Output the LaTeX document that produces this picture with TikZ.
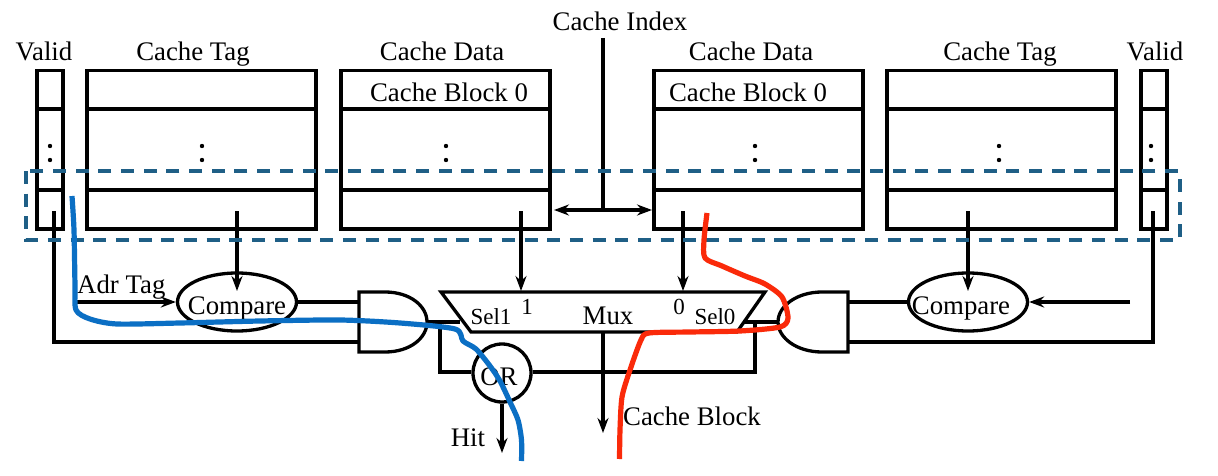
\documentclass[tikz,border=0pt]{standalone}
\usepackage{fontspec}
\setmainfont{Liberation Serif}
\usetikzlibrary{arrows.meta,calc,shapes.geometric}
\definecolor{dashblue}{HTML}{1F5F86}
\definecolor{blueink}{HTML}{0B6FC4}
\definecolor{redink}{HTML}{FA2A0A}
\tikzset{
 x=1pt,y=-1pt,
 wire/.style={line width=3.3pt,black,line cap=butt,line join=miter},
 arrowwire/.style={wire,-{Stealth[length=15pt,width=11pt,inset=5pt]}},
 lab/.style={inner sep=0pt,font=\fontsize{26.8}{28}\selectfont,anchor=base},
 small/.style={inner sep=0pt,font=\fontsize{23}{24}\selectfont,anchor=base},
 dotn/.style={circle,fill=black,inner sep=0pt,minimum size=4.4pt},
 ink/.style={line width=5.2pt,line join=round,line cap=butt},
}
\begin{document}
\begin{tikzpicture}
\useasboundingbox (0,0) rectangle (1218,476);
\fill[white] (0,0) rectangle (1218,476);
% columns
\foreach \n/\a/\b in {vl/37/63,tl/87/316,dl/341/550,dr/654/863,tr/887/1116,vr/1141/1167}{
 \draw[wire] (\a,70.5) rectangle (\b,229);
 \draw[wire] (\a,109) -- (\b,109);
 \draw[wire] (\a,190) -- (\b,190);
}
% dots
\foreach \x/\k in {50/a,202/b,446/c,755/d,999/e,1151/f}{
 \node[dotn] (dot\k1) at (\x,146) {};
 \node[dotn] (dot\k2) at (\x,160) {};
}
% headers
\node[lab] (hv1) at (44,61) {Valid};
\node[lab] (ht1) at (193,61) {Cache Tag};
\node[lab] (hd1) at (442,61) {Cache Data};
\node[lab] (hidx) at (620,31) {Cache Index};
\node[lab] (hd2) at (751,61) {Cache Data};
\node[lab] (ht2) at (1000,61) {Cache Tag};
\node[lab] (hv2) at (1155,61) {Valid};
\node[lab] (cb1) at (449,102) {Cache Block 0};
\node[lab] (cb2) at (748,102) {Cache Block 0};
% index
\coordinate (idxtop) at (603,38);
\coordinate (idxjoin) at (603,210);
\coordinate (idxl) at (554,210);
\coordinate (idxr) at (652,210);
\draw[wire] (idxtop) -- (idxjoin);
\draw[wire,{Stealth[length=15pt,width=11pt,inset=5pt]}-{Stealth[length=15pt,width=11pt,inset=5pt]}] (idxl) -- (idxr);
% compare
\node[wire,draw,ellipse,minimum width=119pt,minimum height=58pt,inner sep=0pt] (cmpl) at (237,302) {};
\node[wire,draw,ellipse,minimum width=119pt,minimum height=58pt,inner sep=0pt] (cmpr) at (968,302) {};
\node[lab] (cmpltxt) at (237,314) {Compare};
\node[lab] (cmprtxt) at (961,314) {Compare};
\coordinate (tagl) at (237,211);
\coordinate (tagr) at (968,211);
\draw[arrowwire] (tagl) -- (237,291);
\draw[arrowwire] (tagr) -- (968,291);
% Adr tag
\node[lab,anchor=base west] (adr) at (77,293) {Adr Tag};
\coordinate (adrl) at (77,302);
\coordinate (adrr) at (1130,302);
\draw[arrowwire] (adrl) -- (cmpl.west);
\draw[arrowwire] (adrr) -- (cmpr.east);
% AND gates
\draw[wire] (359,292) -- (385,292) .. controls (410,292) and (427,306) .. (427,322) .. controls (427,338) and (410,352) .. (385,352) -- (359,352) -- cycle;
\draw[wire] (848,292) -- (822,292) .. controls (797,292) and (778,306) .. (778,322) .. controls (778,338) and (797,352) .. (822,352) -- (848,352) -- cycle;
% wires to gates
\draw[wire] (cmpl.east) -- (359,302);
\draw[wire] (cmpr.west) -- (848,302);
\coordinate (vl1) at (54,211);
\draw[wire] (vl1) -- (54,342) -- (359,342);
\coordinate (vr1) at (1153,211);
\draw[wire] (vr1) -- (1153,342) -- (848,342);
% and output to or
\node[wire,draw,circle,minimum size=58pt,inner sep=0pt] (orn) at (502,373) {};
\draw[wire] (427,322) -- (460,322);
\draw[wire] (440,322) -- (440,372) -- (orn.west |- 0,372);
\draw[wire] (778,322) -- (745,322);
\draw[wire] (755,322) -- (755,372) -- (orn.east |- 0,372);
% mux
\draw[wire,fill=white] (441,292) -- (765,292) -- (737,332) -- (471,332) -- cycle;
\node[small] (sel1) at (491,324) {Sel1};
\node[small] (one) at (527,314) {1};
\node[lab] (mux) at (608,324) {Mux};
\node[small] (zero) at (679,314) {0};
\node[small] (sel0) at (715,324) {Sel0};
\coordinate (dl1) at (521,211);
\coordinate (dr1) at (683,211);
\draw[arrowwire] (dl1) -- (521,291);
\draw[arrowwire] (dr1) -- (683,291);
\node[lab] (ortxt) at (499,385) {OR};
\coordinate (hitend) at (502,453);
\draw[arrowwire] (orn.south) -- (hitend);
\node[lab] (hit) at (468,446) {Hit};
\coordinate (muxout) at (603,433);
\draw[arrowwire] (603,332) -- (muxout);
\node[lab] (cbk) at (692,425) {Cache Block};
% dashed
\draw[dashblue,line width=3.3pt,dash pattern=on 13pt off 9.7pt] (26,171) rectangle (1180,240);
% ink
\draw[blueink,ink] plot[smooth,tension=.45] coordinates {(72,196) (74,230) (75,285) (76,310) (90,319) (117,324) (180,323) (260,321) (340,320) (400,323) (455,329) (463,341) (476,349) (490,366) (500,381) (510,402) (518,420) (521.5,440) (521.5,461)};
\draw[redink,ink] plot[smooth,tension=.45] coordinates {(707,213) (704,240) (705,258) (722,266) (745,276) (765,284) (782,297) (788,318) (780,327) (740,331) (690,332) (649,333) (641,340) (630,370) (622,397) (620,430) (619.5,459)};
\end{tikzpicture}
\end{document}
